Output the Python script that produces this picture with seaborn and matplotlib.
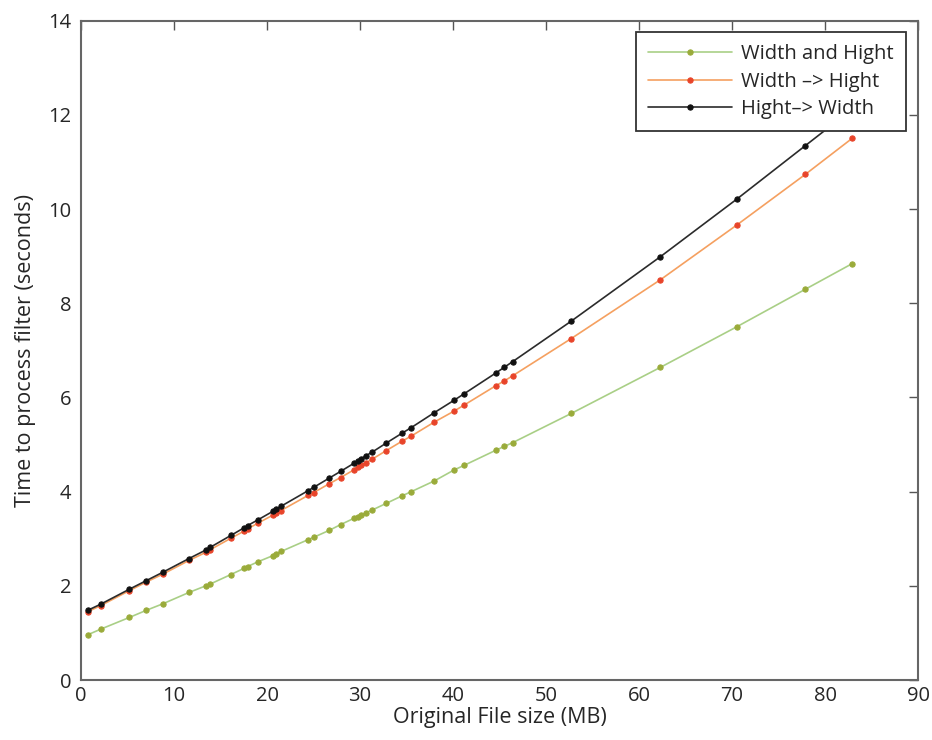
import matplotlib
matplotlib.use("Agg")
import matplotlib.pyplot as plt
import numpy as np
import pandas as pd
import seaborn as sns

# file sizes (MB), shared by all three runs
size_mb = [0.7, 2.1, 5.2, 7.0, 8.8, 11.6, 13.4, 13.9, 16.1, 17.5, 17.9, 19.0,
           20.6, 21.0, 21.5, 24.4, 25.0, 26.7, 27.9, 29.4, 29.8, 30.1, 30.6,
           31.3, 32.8, 34.5, 35.5, 38.0, 40.1, 41.2, 44.6, 45.5, 46.4, 52.7,
           62.3, 70.5, 77.9, 82.9]

width_and_hight = [0.96, 1.08, 1.33, 1.48, 1.62, 1.86, 2.00, 2.04, 2.24, 2.37,
                   2.41, 2.51, 2.64, 2.68, 2.73, 2.98, 3.03, 3.18, 3.30, 3.44,
                   3.47, 3.50, 3.55, 3.61, 3.75, 3.91, 4.00, 4.23, 4.46, 4.56,
                   4.88, 4.96, 5.04, 5.66, 6.64, 7.50, 8.30, 8.84]

width_then_hight = [1.45, 1.58, 1.90, 2.08, 2.25, 2.54, 2.71, 2.77, 3.01, 3.16,
                    3.21, 3.33, 3.50, 3.54, 3.60, 3.92, 3.98, 4.17, 4.30, 4.47,
                    4.52, 4.56, 4.61, 4.69, 4.87, 5.07, 5.18, 5.48, 5.71, 5.84,
                    6.25, 6.35, 6.46, 7.25, 8.50, 9.66, 10.74, 11.50]

hight_then_width = [1.48, 1.61, 1.93, 2.11, 2.29, 2.58, 2.76, 2.82, 3.07, 3.23,
                    3.28, 3.40, 3.58, 3.63, 3.69, 4.02, 4.09, 4.29, 4.43, 4.61,
                    4.66, 4.70, 4.76, 4.84, 5.03, 5.24, 5.36, 5.68, 5.94, 6.08,
                    6.52, 6.64, 6.76, 7.62, 8.99, 10.21, 11.35, 12.12]

labels = ["Width and Hight", "Width \u2013> Hight", "Hight\u2013> Width"]
line_colors = ["#a9cf86", "#f5a060", "#2b2b2b"]
marker_colors = ["#9aab3a", "#e8442a", "#111111"]

sns.set_style("white")
plt.rcParams["font.family"] = ["Open Sans", "DejaVu Sans"]
plt.rcParams["text.color"] = "#262626"

fig = plt.figure(figsize=(9.32, 7.4), dpi=100)
ax = fig.add_axes([0.087, 0.081, 0.898, 0.891])

series = [width_and_hight, width_then_hight, hight_then_width]
for vals, lab, lc, mc in zip(series, labels, line_colors, marker_colors):
    df = pd.DataFrame({"size": size_mb, "time": vals})
    sns.lineplot(data=df, x="size", y="time", ax=ax, color=lc, label=lab,
                 linewidth=1.2, marker="o", markersize=3.8,
                 markerfacecolor=mc, markeredgecolor=mc)

ax.set_xlim(0, 90)
ax.set_ylim(0, 14)
ax.set_xticks(np.arange(0, 91, 10))
ax.set_yticks(np.arange(0, 15, 2))
ax.set_xlabel("Original File size (MB)", fontsize=15.5, labelpad=1,
              color="#262626")
ax.set_ylabel("Time to process filter (seconds)", fontsize=15.5, labelpad=9,
              color="#262626")
ax.tick_params(direction="in", length=6.5, width=1, top=True, right=True,
               labelsize=14.5, colors="#555555", labelcolor="#262626")
ax.tick_params(axis="x", pad=4)
ax.tick_params(axis="y", pad=7)
for s in ax.spines.values():
    s.set_color("#666666")
    s.set_linewidth(1.5)
    s.set_visible(True)

leg = ax.legend(loc="upper right", fontsize=14.5, frameon=True, fancybox=False,
                handlelength=4.2, handletextpad=0.45, borderpad=0.6,
                labelspacing=0.38, borderaxespad=0,
                bbox_to_anchor=(0.9857, 0.983))
leg.get_frame().set_edgecolor("#333333")
leg.get_frame().set_linewidth(1.3)
leg.get_frame().set_alpha(1)

fig.savefig("out.png", dpi=100)
